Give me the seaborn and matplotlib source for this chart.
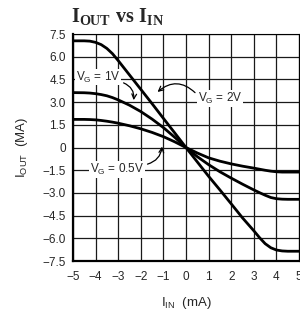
import numpy as np
import pandas as pd
import matplotlib as mpl
import matplotlib.pyplot as plt
import seaborn as sns

# I_IN (mA)
i_in = [-5, -4.5, -4.25, -4, -3.75, -3.5, -3.25, -3, -2.5, -2, -1.5, -1, -0.5, 0,
        0.5, 1, 1.5, 2, 2.5, 3, 3.25, 3.5, 3.75, 4, 4.25, 4.5, 5]

# I_OUT (mA) for each gate voltage
iout_vg2 = [7.05, 7.05, 7.03, 6.95, 6.8, 6.55, 6.2, 5.75, 4.8, 3.85, 2.9, 1.93, 0.97, 0,
            -0.95, -1.9, -2.8, -3.72, -4.65, -5.5, -5.95, -6.35, -6.62, -6.77, -6.83,
            -6.85, -6.85]
iout_vg1 = [3.63, 3.62, 3.6, 3.56, 3.5, 3.42, 3.3, 3.15, 2.8, 2.38, 1.88, 1.32, 0.68, 0,
            -0.6, -1.13, -1.6, -2.02, -2.42, -2.8, -2.98, -3.15, -3.3, -3.38, -3.41,
            -3.42, -3.42]
iout_vg05 = [1.86, 1.86, 1.85, 1.83, 1.79, 1.74, 1.68, 1.61, 1.44, 1.24, 1.0, 0.72, 0.38, 0,
             -0.36, -0.68, -0.9, -1.08, -1.23, -1.36, -1.43, -1.5, -1.56, -1.6, -1.62,
             -1.62, -1.62]

x_ticks = [-5, -4, -3, -2, -1, 0, 1, 2, 3, 4, 5]
y_ticks = [7.5, 6.0, 4.5, 3.0, 1.5, 0, -1.5, -3.0, -4.5, -6.0, -7.5]
y_ticklabels = ["7.5", "6.0", "4.5", "3.0", "1.5", "0",
                "\u22121.5", "\u22123.0", "\u22124.5", "\u22126.0", "\u22127.5"]

df = pd.DataFrame({
    "iin": i_in * 3,
    "iout": iout_vg2 + iout_vg1 + iout_vg05,
    "vg": ["2V"] * len(i_in) + ["1V"] * len(i_in) + ["0.5V"] * len(i_in),
})

sns.set_style("white")
plt.rcParams["font.family"] = ["Liberation Sans", "DejaVu Sans"]
plt.rcParams["mathtext.fontset"] = "custom"
plt.rcParams["mathtext.rm"] = "Liberation Sans"
plt.rcParams["mathtext.bf"] = "Liberation Serif:bold"

fig = plt.figure(figsize=(3.0, 3.18), dpi=100)
ax = fig.add_axes([0.243, 0.179, 0.754, 0.714])

sns.lineplot(data=df, x="iin", y="iout", hue="vg",
             palette=["black", "black", "black"], linewidth=2.0,
             legend=False, ax=ax, sort=False)

ax.set_xlim(-5, 5)
ax.set_ylim(-7.5, 7.5)
ax.set_xticks(x_ticks)
ax.set_xticklabels([str(t).replace("-", "\u2212") for t in x_ticks])
ax.set_yticks(y_ticks)
ax.set_yticklabels(y_ticklabels)
ax.tick_params(length=0, labelsize=8.5)
ax.tick_params(axis="x", pad=7)
ax.tick_params(axis="y", pad=5)
ax.grid(True, color="#1a1a1a", linewidth=0.9)
ax.set_axisbelow(True)

for side in ["left", "bottom"]:
    ax.spines[side].set_linewidth(1.6)
for side in ["top", "right"]:
    ax.spines[side].set_linewidth(0.8)
for sp in ax.spines.values():
    sp.set_color("black")

ax.set_xlabel(r"$\mathregular{I_{IN}}$  (mA)", fontsize=9.5, labelpad=9)
ax.set_ylabel(r"$\mathregular{I_{OUT}}$  (MA)", fontsize=9.5, labelpad=9)

fig.text(0.237, 0.93, r"$\mathbf{I_{OUT}}$ $\mathbf{vs}$ $\mathbf{I_{IN}}$",
         fontsize=14.5, ha="left", va="baseline")

box = dict(fc="white", ec="none", pad=0.5)
arrow = dict(arrowstyle="->", color="black", lw=0.9)

ax.annotate(r"V$_\mathregular{G}$ = 1V", xy=(-2.33, 2.95), xytext=(-4.87, 4.65),
            fontsize=8.5, ha="left", va="center", bbox=box,
            arrowprops=dict(arrow, connectionstyle="arc3,rad=-0.45",
                            relpos=(1.0, 0.2)))
ax.annotate(r"V$_\mathregular{G}$ = 2V", xy=(-1.35, 3.55), xytext=(1.5, 3.25),
            fontsize=8.5, ha="center", va="center", bbox=box,
            arrowprops=dict(arrow, connectionstyle="arc3,rad=0.5",
                            relpos=(0.0, 0.7)))
ax.annotate(r"V$_\mathregular{G}$ = 0.5V", xy=(-1.05, 0.25), xytext=(-3.05, -1.45),
            fontsize=8.5, ha="center", va="center", bbox=box,
            arrowprops=dict(arrow, connectionstyle="arc3,rad=0.4",
                            relpos=(1.0, 0.8)))

fig.savefig("out.png", dpi=100)
